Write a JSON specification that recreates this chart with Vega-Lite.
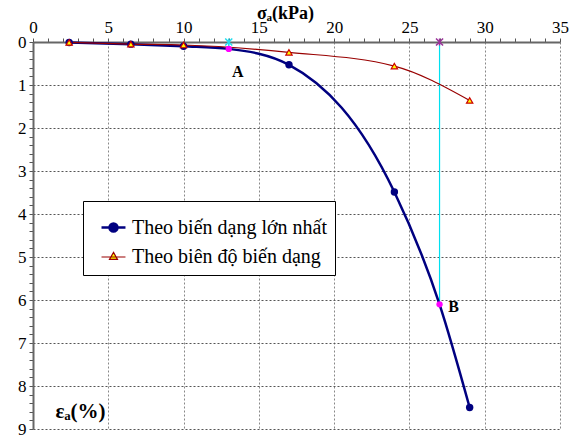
{
  "$schema": "https://vega.github.io/schema/vega-lite/v6.json",
  "width": 527,
  "height": 387,
  "autosize": {"type": "none"},
  "padding": {"left": 33, "top": 42, "right": 14, "bottom": 10},
  "background": "white",
  "config": {"view": {"stroke": null}, "font": "'Liberation Serif', 'DejaVu Serif', serif"},
  "datasets": {
    "main": [
      {"series": "Theo biến dạng lớn nhất", "x": 2.4, "y": 0.01, "point": null},
      {"series": "Theo biến dạng lớn nhất", "x": 6.5, "y": 0.05, "point": null},
      {"series": "Theo biến dạng lớn nhất", "x": 10, "y": 0.1, "point": null},
      {"series": "Theo biến dạng lớn nhất", "x": 13, "y": 0.16, "point": "A"},
      {"series": "Theo biến dạng lớn nhất", "x": 17, "y": 0.53, "point": null},
      {"series": "Theo biến dạng lớn nhất", "x": 24, "y": 3.49, "point": null},
      {"series": "Theo biến dạng lớn nhất", "x": 27, "y": 6.1, "point": "B"},
      {"series": "Theo biến dạng lớn nhất", "x": 29, "y": 8.5, "point": null},
      {"series": "Theo biên độ biến dạng", "x": 2.4, "y": 0.01, "point": null},
      {"series": "Theo biên độ biến dạng", "x": 6.5, "y": 0.05, "point": null},
      {"series": "Theo biên độ biến dạng", "x": 10, "y": 0.07, "point": null},
      {"series": "Theo biên độ biến dạng", "x": 17, "y": 0.24, "point": null},
      {"series": "Theo biên độ biến dạng", "x": 24, "y": 0.56, "point": null},
      {"series": "Theo biên độ biến dạng", "x": 29, "y": 1.36, "point": null}
    ]
  },
  "data": {"name": "main"},
  "encoding": {
    "x": {
      "field": "x", "type": "quantitative",
      "scale": {"domain": [0, 35], "nice": false, "zero": false},
      "axis": {
        "orient": "top",
        "title": "σₐ(kPa)",
        "titleFont": "'Liberation Serif', 'DejaVu Serif', serif", "titleFontSize": 18, "titleFontWeight": "bold", "titleColor": "black",
        "titleX": 252, "titleY": -24, "titleAlign": "center", "titleBaseline": "alphabetic",
        "values": [0,1,2,3,4,5,6,7,8,9,10,11,12,13,14,15,16,17,18,19,20,21,22,23,24,25,26,27,28,29,30,31,32,33,34,35],
        "labelExpr": "datum.value % 5 === 0 ? format(datum.value, 'd') : ''",
        "labelFont": "'Liberation Serif', 'DejaVu Serif', serif", "labelFontSize": 17, "labelColor": "black", "labelPadding": 2,
        "labelOverlap": false, "labelFlush": false,
        "tickSize": 4, "tickColor": "#555", "tickWidth": 1,
        "domainColor": "#666", "domainWidth": 2,
        "grid": true,
        "gridColor": "#888",
        "gridDash": [2, 2],
        "gridOpacity": {"condition": {"test": "datum.value % 5 === 0", "value": 1}, "value": 0}
      }
    },
    "y": {
      "field": "y", "type": "quantitative",
      "scale": {"domain": [0, 9], "nice": false, "zero": false, "reverse": true},
      "axis": {
        "orient": "left",
        "title": "εₐ(%)",
        "titleFont": "'Liberation Serif', 'DejaVu Serif', serif", "titleFontSize": 21, "titleFontWeight": "bold", "titleColor": "black",
        "titleAngle": 0, "titleX": 22, "titleY": 375, "titleAlign": "left", "titleBaseline": "alphabetic",
        "values": [0,0.2,0.4,0.6,0.8,1,1.2,1.4,1.6,1.8,2,2.2,2.4,2.6,2.8,3,3.2,3.4,3.6,3.8,4,4.2,4.4,4.6,4.8,5,5.2,5.4,5.6,5.8,6,6.2,6.4,6.6,6.8,7,7.2,7.4,7.6,7.8,8,8.2,8.4,8.6,8.8,9],
        "labelExpr": "abs(datum.value - round(datum.value)) < 0.001 ? format(datum.value, 'd') : ''",
        "labelFont": "'Liberation Serif', 'DejaVu Serif', serif", "labelFontSize": 17, "labelColor": "black", "labelPadding": 3,
        "labelOverlap": false, "labelFlush": false,
        "tickSize": 4, "tickColor": "#555", "tickWidth": 1,
        "domainColor": "#666", "domainWidth": 2,
        "grid": true,
        "gridColor": "#555",
        "gridDash": [2, 2],
        "gridOpacity": {"condition": {"test": "abs(datum.value - round(datum.value)) < 0.001 && datum.value > 0", "value": 1}, "value": 0}
      }
    }
  },
  "layer": [
    {
      "transform": [{"filter": "datum.point != null"}],
      "mark": {"type": "rule", "color": "#00E0F0", "strokeWidth": 1.2},
      "encoding": {"y": {"datum": 0}, "y2": {"field": "y"}}
    },
    {
      "mark": {"type": "line", "interpolate": "monotone"},
      "encoding": {
        "color": {
          "field": "series", "type": "nominal",
          "scale": {"domain": ["Theo biến dạng lớn nhất", "Theo biên độ biến dạng"], "range": ["#000080", "#990000"]},
          "legend": {
            "orient": "none", "legendX": 50, "legendY": 159,
            "title": null,
            "fillColor": "white", "strokeColor": "black",
            "padding": 8,
            "labelFont": "'Liberation Serif', 'DejaVu Serif', serif", "labelFontSize": 20, "labelColor": "black", "labelLimit": 0,
            "labelOffset": 4,
            "rowPadding": 1,
            "symbolSize": 1156,
            "symbolType": "M-0.47,0H0.94",
            "encode": {
              "symbols": {
                "update": {
                  "shape": {"signal": "datum.index === 0 ? 'M-0.47,0H0.94M0,0A0.235,0.235 0 1,0 0.47,0A0.235,0.235 0 1,0 0,0' : 'M-0.47,0H0.94M0.235,-0.27L0.47,0.14L0,0.14Z'"},
                  "fill": {"signal": "datum.index === 0 ? '#000080' : '#FFFF00'"},
                  "stroke": {"signal": "datum.index === 0 ? '#000080' : '#BB4444'"},
                  "strokeWidth": {"signal": "datum.index === 0 ? 2 : 1.2"},
                  "opacity": {"value": 1}
                }
              }
            }
          }
        },
        "strokeWidth": {
          "field": "series", "type": "nominal",
          "scale": {"domain": ["Theo biến dạng lớn nhất", "Theo biên độ biến dạng"], "range": [2.5, 1.2]},
          "legend": null
        }
      }
    },
    {
      "transform": [{"filter": "datum.series === 'Theo biến dạng lớn nhất' && datum.point == null"}],
      "mark": {"type": "point", "shape": "circle", "filled": true, "color": "#000080", "size": 55, "opacity": 1}
    },
    {
      "transform": [{"filter": "datum.series === 'Theo biên độ biến dạng'"}],
      "mark": {"type": "point", "shape": "triangle-up", "filled": true, "fill": "#FFFF00", "stroke": "#CC0000", "strokeWidth": 1.2, "size": 40, "opacity": 1}
    },
    {
      "transform": [{"filter": "datum.point != null"}],
      "mark": {"type": "point", "shape": "circle", "filled": true, "color": "#FF00FF", "size": 40, "opacity": 1}
    },
    {
      "transform": [{"filter": "datum.point != null"}],
      "mark": {"type": "point", "shape": "M-1,-1L1,1M-1,1L1,-1M0,-1L0,1", "filled": false, "size": 50, "strokeWidth": 1.5, "opacity": 1},
      "encoding": {
        "y": {"datum": 0},
        "stroke": {"condition": {"test": "datum.point === 'A'", "value": "#22DDEE"}, "value": "#993399"}
      }
    },
    {
      "transform": [{"filter": "datum.point === 'A'"}],
      "mark": {"type": "text", "text": "A", "font": "'Liberation Serif', 'DejaVu Serif', serif", "fontSize": 16, "fontWeight": "bold", "color": "black", "dx": 9, "dy": 23, "align": "center", "baseline": "middle"}
    },
    {
      "transform": [{"filter": "datum.point === 'B'"}],
      "mark": {"type": "text", "text": "B", "font": "'Liberation Serif', 'DejaVu Serif', serif", "fontSize": 16, "fontWeight": "bold", "color": "black", "dx": 14, "dy": 3, "align": "center", "baseline": "middle"}
    }
  ]
}
